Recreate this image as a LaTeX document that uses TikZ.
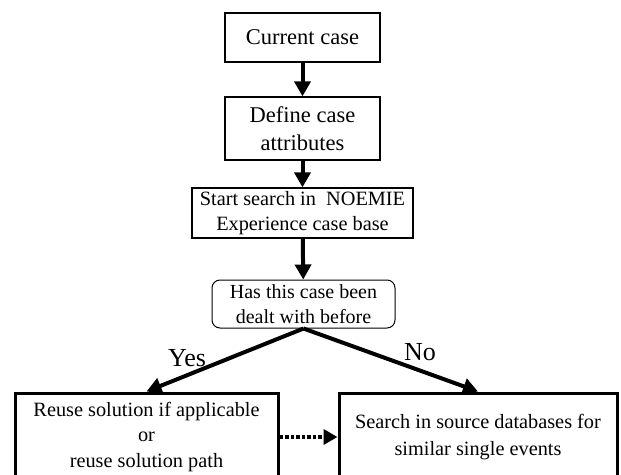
\documentclass[tikz,border=0pt]{standalone}
\usepackage{fontspec}
\setmainfont{Liberation Serif}
\usetikzlibrary{arrows.meta}
\tikzset{
  stepbox/.style={draw, line width=1.3pt, inner sep=0pt, align=center,
    font=\fontsize{20.3}{25.5}\selectfont},
  askbox/.style={stepbox, line width=1pt, rounded corners=8pt,
    font=\fontsize{20}{25.5}\selectfont},
  endbox/.style={stepbox, line width=3pt},
  flow/.style={line width=4pt, -{Triangle[length=15pt,width=16pt]}},
  maybe/.style={line width=3.5pt, dotted, -{Triangle[length=14pt,width=15pt]}},
  answer/.style={font=\fontsize{26}{30}\selectfont}
}
\begin{document}
\begin{tikzpicture}[x=1pt, y=-1pt]
\clip (0,0) rectangle (621,474);
%% boxes
\node[stepbox, minimum width=155pt, minimum height=49pt,
  font=\fontsize{22.5}{28}\selectfont] (current) at (302.5,37.5) {Current case};
\node[stepbox, minimum width=155pt, minimum height=63pt,
  font=\fontsize{22.5}{28.5}\selectfont] (define) at (302.5,128.5) {Define case\\attributes};
\node[stepbox, minimum width=221pt, minimum height=50pt] (search) at (302.5,213) {Start search in\ \ NOEMIE\\Experience case base};
\node[askbox, minimum width=183pt, minimum height=48pt] (before) at (303.5,304) {Has this case been\\dealt with before};
\node[endbox, minimum width=263pt, minimum height=88pt] (reuse) at (146.5,437) {Reuse solution if applicable\\or\\reuse solution path};
\node[endbox, minimum width=278pt, minimum height=88pt,
  font=\fontsize{20.3}{27}\selectfont] (sources) at (478,437) {Search in source databases for\\similar single events};
%% connectors
\draw[flow] (current) -- (define);
\draw[flow] (define) -- (search);
\draw[flow] (search) -- (before);
\draw[flow] (before.south) -- (reuse.north);
\draw[flow] (before.south) -- (sources.north);
\draw[maybe] (reuse.east) -- (sources.west);
%% answers
\node[answer] (yes) at (187,358) {Yes};
\node[answer] (no) at (420,352) {No};
\end{tikzpicture}
\end{document}
